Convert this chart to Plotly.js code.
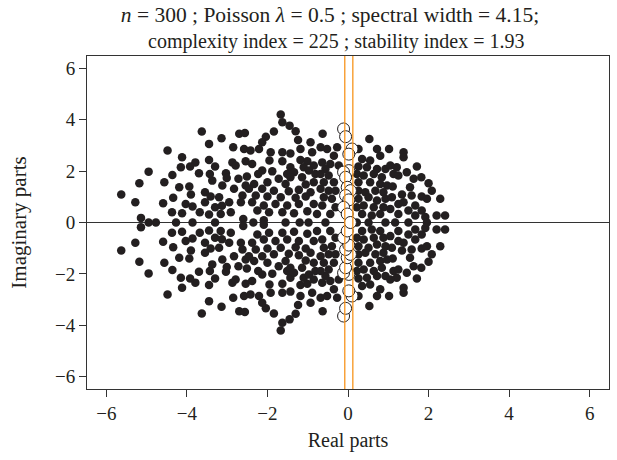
<!DOCTYPE html>
<html>
<head>
<meta charset="utf-8">
<script src="https://cdn.plot.ly/plotly-3.0.1.min.js"></script>
<style>html,body{margin:0;padding:0;background:#fff;}#chart{width:617px;height:460px;}</style>
</head>
<body>
<div id="chart"></div>
<script>
// Eigenvalues with positive imaginary part (each has a conjugate partner below the axis)
const upperRe = [
-4.48,-4.95,-4.36,-5.18,-4.56,-5.63,-5.28,-4.59,-4.34,-4.37,-5.14,
-3.63,-2.70,-2.56,-3.14,-3.45,-2.85,-2.58,-4.12,-3.45,-3.79,-3.92,-4.15,-3.30,-2.87,-2.79,-2.54,-3.70,-3.43,-3.03,-3.01,-3.37,-2.72,-2.51,-4.19,-3.94,-3.12,-2.83,-2.54,-3.90,-3.55,-3.41,-3.20,-2.62,-3.55,-2.95,-2.66,-4.03,-3.86,-3.30,-3.13,-4.12,-3.68,-3.45,-3.16,-2.91,-2.60,
-1.67,-1.63,-1.45,-1.84,-1.30,-2.04,-2.13,-1.24,-0.93,-2.21,-1.92,-1.63,-1.43,-1.18,-2.42,-0.89,-1.95,-1.63,-1.18,-1.01,-2.38,-1.43,-1.10,-0.85,-2.13,-1.88,-2.23,-1.51,-1.34,-0.97,-0.81,-1.72,-1.43,-1.14,-2.33,-2.00,-1.55,-1.05,-0.85,-2.46,-2.13,-1.84,-1.47,-1.22,-0.93,-2.29,-2.00,-1.67,-1.30,-1.05,-2.38,-2.09,-1.80,-1.51,-1.22,-0.85,-2.25,-1.96,-1.63,-1.34,-1.01,-0.77,-2.09,
0.53,-0.63,-0.68,-0.52,-0.27,-0.35,0.26,0.35,0.72,0.80,0.55,-0.64,-0.44,-0.56,-0.23,0.26,0.47,0.72,0.93,-0.68,-0.48,0.22,0.39,0.64,0.84,-0.60,-0.35,0.26,0.55,0.80,0.97,-0.68,-0.48,-0.31,0.26,0.43,0.68,0.88,-0.60,-0.40,0.26,0.51,0.72,0.93,-0.64,-0.31,0.22,0.39,0.64,0.88,-0.44,0.35,0.59,0.80,
1.38,1.38,1.02,1.71,1.21,1.05,1.13,1.25,1.46,1.82,1.63,2.00,1.11,1.54,2.08,1.83,1.96,2.29,1.34,1.09,1.58,1.25,1.38,1.67,1.05,1.50,1.83,1.25,1.67,1.92,2.20,2.41
];
const upperIm = [
2.80,1.98,1.85,1.53,1.57,1.09,0.79,0.75,0.96,0.40,0.18,
3.54,3.45,3.48,3.28,3.06,2.93,2.86,2.54,2.43,2.34,2.18,2.15,2.18,2.34,2.22,2.38,1.92,1.89,1.92,1.73,1.63,1.70,1.79,1.37,1.40,1.44,1.31,1.44,1.09,1.18,1.01,0.98,1.05,0.79,0.79,0.79,0.72,0.62,0.59,0.65,0.36,0.40,0.31,0.33,0.40,0.14,
4.20,3.90,3.77,3.54,3.55,3.34,3.12,3.21,3.12,2.86,2.73,2.73,2.69,2.86,2.80,2.73,2.41,2.38,2.43,2.38,2.28,2.15,2.15,2.22,2.02,1.99,1.89,1.89,1.96,2.02,1.89,1.70,1.76,1.76,1.50,1.57,1.50,1.48,1.57,1.31,1.31,1.24,1.22,1.27,1.18,1.05,1.01,0.98,0.96,1.01,0.79,0.66,0.72,0.66,0.72,0.72,0.47,0.40,0.40,0.36,0.44,0.33,0.09,
3.25,3.45,2.93,2.86,2.93,2.60,2.86,2.47,2.86,2.60,2.41,2.34,2.28,2.08,2.22,2.18,2.15,2.08,2.08,1.89,1.83,1.89,1.83,1.89,1.76,1.57,1.57,1.57,1.57,1.50,1.44,1.31,1.24,1.24,1.24,1.18,1.24,1.18,0.98,0.92,0.92,0.98,0.86,0.92,0.66,0.59,0.59,0.66,0.59,0.59,0.33,0.33,0.27,0.33,
2.73,2.54,2.86,2.18,2.15,2.22,1.89,1.83,1.96,1.76,1.70,1.53,1.40,1.37,1.24,1.01,0.92,0.92,1.09,0.98,1.05,0.72,0.79,0.66,0.53,0.47,0.47,0.33,0.27,0.21,0.27,0.27
];
// Purely real eigenvalues
const realOnly = [-4.95,-4.77,-4.27,-3.86,-3.30,-2.35,-1.55,-1.20,-0.98,-0.56,0.22,0.51,0.93,1.17,1.50,1.96];
// Open circles (upper half, conjugates below) and real open circle
const circUpperRe = [-0.11,-0.06,0.10,0.02,0.02,-0.11,-0.06,-0.02,0.06,-0.06,0.02,-0.11,-0.02];
const circUpperIm = [3.64,3.34,2.86,2.66,2.02,1.96,1.76,1.37,1.24,1.05,0.88,0.59,0.33];
const circReal = [0.06];
// Vertical reference lines (orange)
const vLines = [-0.08, 0.12];
const tickValues = [-6,-4,-2,0,2,4,6];

const fx = upperRe.concat(upperRe, realOnly);
const fy = upperIm.concat(upperIm.map(v => -v), realOnly.map(() => 0));
const cx = circUpperRe.concat(circUpperRe, circReal);
const cy = circUpperIm.concat(circUpperIm.map(v => -v), circReal.map(() => 0));

const serif = "Liberation Serif, Times New Roman, serif";
const ink = '#231f20';
const traces = [
  {x: fx, y: fy, type: 'scatter', mode: 'markers', hoverinfo: 'x+y',
   marker: {size: 8.5, color: ink}},
  {x: cx, y: cy, type: 'scatter', mode: 'markers', hoverinfo: 'x+y',
   marker: {size: 12, color: '#ffffff', line: {color: ink, width: 1}}}
];
const shapes = vLines.map(v => ({type: 'line', xref: 'x', yref: 'paper', x0: v, x1: v, y0: 0, y1: 1,
  line: {color: '#f7941d', width: 1.3}, layer: 'above'}));

const axisCommon = {
  showgrid: false, showline: true, mirror: true, linecolor: '#333', linewidth: 1,
  ticks: 'outside', ticklen: 7, tickcolor: '#333', tickwidth: 1,
  tickfont: {family: serif, size: 19, color: ink},
  tickvals: tickValues, range: [-6.48, 6.48], autorange: false
};
const layout = {
  width: 617, height: 460,
  margin: {l: 87, r: 8, t: 56, b: 71},
  paper_bgcolor: '#fff', plot_bgcolor: '#fff',
  showlegend: false,
  title: {text: '<i>n</i> = 300 ; Poisson <i>λ</i> = 0.5 ; spectral width = 4.15;',
          font: {family: serif, size: 21.5, color: ink},
          xref: 'container', x: 330 / 617, xanchor: 'center', yref: 'container', y: 1 - 14/460, yanchor: 'middle'},
  annotations: [{text: 'complexity index = 225 ; stability index = 1.93', showarrow: false,
          font: {family: serif, size: 20, color: ink},
          xref: 'paper', yref: 'paper', x: 0.477, y: (389 - 41) / 333, xanchor: 'center', yanchor: 'middle'}],
  xaxis: Object.assign({}, axisCommon, {zeroline: false,
    title: {text: 'Real parts', font: {family: serif, size: 20, color: ink}, standoff: 10}}),
  yaxis: Object.assign({}, axisCommon, {zeroline: true, zerolinecolor: '#333', zerolinewidth: 1,
    title: {text: 'Imaginary parts', font: {family: serif, size: 21, color: ink}, standoff: 22}}),
  shapes: shapes
};
Plotly.newPlot('chart', traces, layout, {displayModeBar: false, staticPlot: true});
</script>
</body>
</html>
